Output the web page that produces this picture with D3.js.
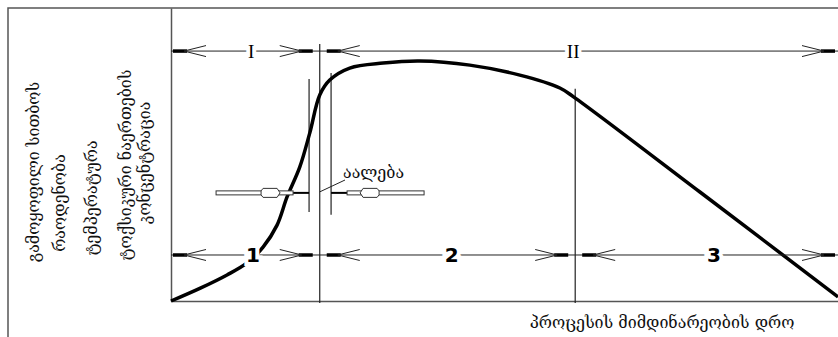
<!DOCTYPE html>
<html>
<head>
<meta charset="utf-8">
<script src="https://cdn.jsdelivr.net/npm/d3@7"></script>
<style>
  body { margin: 0; background: #fff; }
  svg { display: block; }
</style>
</head>
<body>
<main></main>
<script>
// curve (time %, amount %)
var timeVals = [0, 4.4, 8.4, 11.4, 13.8, 15.9, 17.4, 19.3, 20.8, 22.3, 23.8, 26.8, 31.8, 37.3, 44.8, 52.3, 58.3, 60.4, 79.3, 100];
var heatVals = [0, 4.4, 8.9, 13.0, 18.4, 25.9, 35.5, 45.7, 57.3, 70.3, 75.4, 79.5, 81.2, 81.9, 80.5, 77.1, 72.7, 69.6, 37.2, 1.4];

var stageNames = ["I", "II"];
var stageSpans = [[0, 22.3], [22.3, 100]];
var stageLabelAt = [12, 60.3];
var stageLevel = 85.3;

var periodNames = ["1", "2", "3"];
var periodSpans = [[0, 22.3], [22.3, 60.6], [60.6, 100]];
var periodLabelAt = [12.3, 42.1, 81.4];
var periodLevel = 15.7;

var phaseEdges = [22.3, 60.6];
var phaseTops = [87.7, 72.4];

var ignitionEdges = [20.7, 24.0];
var ignitionTops = [75.8, 77.8];
var ignitionBottoms = [30.4, 29.4];
var ignitionLevel = 36.9;
var ignitionLabel = "აალება";

var yLabelLines = ["გამოყოფილი სითბოს", "რაოდენობა", "ტემპერატურა", "ტოქსიკური ნაერთების", "კონცენტრაცია"];
var xLabel = "პროცესის მიმდინარეობის დრო";

var width = 838, height = 337;
var geo = "'DejaVu Serif', 'DejaVu Sans', serif";

var svg = d3.select("main").append("svg")
    .attr("width", width)
    .attr("height", height);

var x = d3.scaleLinear().domain([0, 100]).range([171, 838]);
var y = d3.scaleLinear().domain([0, 100]).range([301, 8]);

// outer frame (left and top edges)
svg.append("path")
    .attr("d", "M8,337V8H838")
    .attr("fill", "none")
    .attr("stroke", "#555")
    .attr("stroke-width", 1.5);

// axes, no ticks
svg.append("g")
    .attr("transform", "translate(0," + y(0) + ")")
    .call(d3.axisBottom(x).tickValues([]).tickSizeOuter(0))
    .select(".domain").attr("stroke", "#555").attr("stroke-width", 1.5);
svg.append("g")
    .attr("transform", "translate(" + x(0) + ",0)")
    .call(d3.axisLeft(y).tickValues([]).tickSizeOuter(0))
    .select(".domain").attr("stroke", "#555").attr("stroke-width", 1.5);

// y label, rotated lines (baseline x, centre y)
var yLabelPos = [[39, 172], [65, 203], [97, 198], [131, 165], [150, 163]];
yLabelLines.forEach(function(t, i) {
  svg.append("text")
      .attr("transform", "translate(" + yLabelPos[i][0] + "," + yLabelPos[i][1] + ") rotate(-90)")
      .attr("text-anchor", "middle")
      .style("font-family", geo)
      .style("font-size", "16px")
      .attr("fill", "#111")
      .text(t);
});

svg.append("text")
    .attr("x", 662)
    .attr("y", 328)
    .attr("text-anchor", "middle")
    .style("font-family", geo)
    .style("font-size", "16px")
    .attr("fill", "#111")
    .text(xLabel);

// phase boundaries
phaseEdges.forEach(function(e, i) {
  svg.append("line")
      .attr("x1", x(e)).attr("x2", x(e))
      .attr("y1", y(phaseTops[i])).attr("y2", y(-0.7))
      .attr("stroke", "#222").attr("stroke-width", 1.2);
});

// ignition marks
ignitionEdges.forEach(function(e, i) {
  svg.append("line")
      .attr("x1", x(e)).attr("x2", x(e))
      .attr("y1", y(ignitionTops[i])).attr("y2", y(ignitionBottoms[i]))
      .attr("stroke", "#222").attr("stroke-width", 1.2);
});

// the curve
var line = d3.line()
    .x(function(d) { return x(d[0]); })
    .y(function(d) { return y(d[1]); })
    .curve(d3.curveCatmullRom.alpha(0.5));

svg.append("path")
    .datum(d3.zip(timeVals, heatVals))
    .attr("d", line)
    .attr("fill", "none")
    .attr("stroke", "#000")
    .attr("stroke-width", 3.5)
    .attr("stroke-linejoin", "round");

// dimension rows
function arrowEnd(b, dir, yy, gap) {
  // dir = +1 at a left edge, -1 at a right edge
  var s = b + dir * gap;
  svg.append("line")
      .attr("x1", s).attr("x2", s + dir * 14)
      .attr("y1", yy).attr("y2", yy)
      .attr("stroke", "#000").attr("stroke-width", 3.5);
  var tip = s + dir * 11;
  svg.append("path")
      .attr("d", "M" + (tip + dir * 22) + "," + (yy - 5.5) + "L" + tip + "," + yy + "L" + (tip + dir * 22) + "," + (yy + 5.5))
      .attr("fill", "none")
      .attr("stroke", "#222")
      .attr("stroke-width", 1);
}

function dimRow(spans, names, at, level, font, size, weight) {
  var yy = y(level);
  svg.append("line")
      .attr("x1", x(spans[0][0])).attr("x2", x(100))
      .attr("y1", yy).attr("y2", yy)
      .attr("stroke", "#222").attr("stroke-width", 1);
  spans.forEach(function(s, i) {
    arrowEnd(x(s[0]), 1, yy, s[0] === 0 ? 2 : 7);
    arrowEnd(x(s[1]), -1, yy, s[1] === 100 ? 3 : 7);
    svg.append("text")
        .attr("x", x(at[i]))
        .attr("y", yy)
        .attr("dy", "0.35em")
        .attr("text-anchor", "middle")
        .style("font-family", font)
        .style("font-size", size)
        .style("font-weight", weight)
        .attr("fill", "#000")
        .attr("stroke", "#fff")
        .attr("stroke-width", 8)
        .attr("paint-order", "stroke")
        .text(names[i]);
  });
}

dimRow(stageSpans, stageNames, stageLabelAt, stageLevel, "'Liberation Serif', serif", "19px", "normal");
dimRow(periodSpans, periodNames, periodLabelAt, periodLevel, "'DejaVu Sans', sans-serif", "20px", "bold");

// hollow ignition arrows
function hollowArrow(edge, dir) {
  var yy = y(ignitionLevel);
  var b = x(edge);
  var shaftEnd = b - dir * 16;
  svg.append("line")
      .attr("x1", b).attr("x2", shaftEnd)
      .attr("y1", yy).attr("y2", yy)
      .attr("stroke", "#000").attr("stroke-width", 2);
  var far = b - dir * 93;
  svg.append("rect")
      .attr("x", Math.min(far, shaftEnd)).attr("y", yy - 2)
      .attr("width", Math.abs(far - shaftEnd)).attr("height", 4)
      .attr("fill", "#fff").attr("stroke", "#333").attr("stroke-width", 1);
  var p0 = b - dir * 29, p1 = b - dir * 48;
  svg.append("path")
      .attr("d", "M" + p0 + "," + yy + "L" + (p0 - dir * 3) + "," + (yy - 4.5) + "L" + (p1 + dir * 2) + "," + (yy - 4.5) +
                 "L" + p1 + "," + (yy - 2) + "L" + p1 + "," + (yy + 2) + "L" + (p1 + dir * 2) + "," + (yy + 4.5) +
                 "L" + (p0 - dir * 3) + "," + (yy + 4.5) + "Z")
      .attr("fill", "#fff").attr("stroke", "#333").attr("stroke-width", 1);
}
hollowArrow(ignitionEdges[0], 1);
hollowArrow(ignitionEdges[1], -1);

// ignition label with leader
svg.append("line")
    .attr("x1", x(22.3)).attr("y1", y(ignitionLevel) - 1)
    .attr("x2", 345).attr("y2", 180)
    .attr("stroke", "#222").attr("stroke-width", 1);
svg.append("text")
    .attr("x", 343)
    .attr("y", 178)
    .style("font-family", geo)
    .style("font-size", "16px")
    .attr("fill", "#111")
    .text(ignitionLabel);
</script>
</body>
</html>
